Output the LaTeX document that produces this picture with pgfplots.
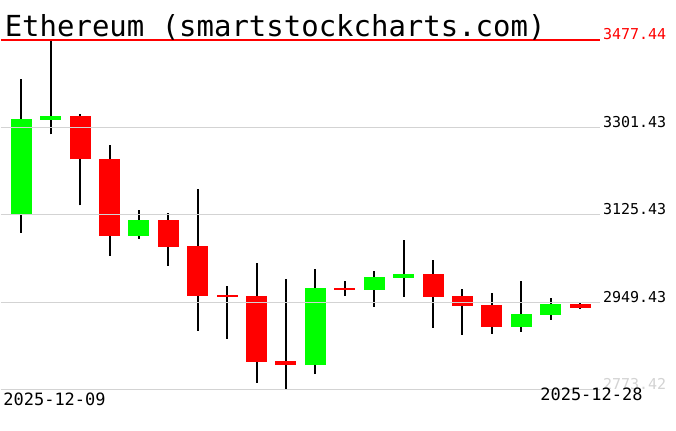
\documentclass[border=0pt]{standalone}
\usepackage{pgfplots}
\usepackage{pgfplotstable}
\pgfplotsset{compat=1.18}
\usepackage{fontspec}
\setmainfont{DejaVu Sans Mono}
\definecolor{gridgray}{RGB}{211,211,211}
\definecolor{upgreen}{RGB}{0,255,0}
\definecolor{downred}{RGB}{255,0,0}

% x open high low close
\pgfplotstableread{
x  o       h        l       c
1  3125.4  3399.6   3089.7  3319.0
2  3316.9  3477.44  3287.3  3325.0
5  3083.7  3135.5   3077.0  3115.3
11 2823.0  3016.6   2804.9  2978.3
13 2974.2  3013.1   2939.9  3000.4
14 2999.0  3075.0   2960.7  3007.1
18 2900.2  2992.4   2890.1  2925.8
19 2924.4  2958.1   2914.3  2946.0
}\updata
\pgfplotstableread{
x  o       h        l        c
3  3325.0  3329.0   3144.2   3236.9
4  3238.3  3266.5   3043.4   3083.7
6  3115.3  3129.4   3023.2   3061.5
7  3062.9  3177.8   2892.2   2962.7
8  2964.1  2982.3   2876.0   2960.7
9  2962.1  3028.0   2787.3   2829.7
10 2831.1  2996.4   2773.42  2823.0
12 2978.3  2992.4   2962.1   2974.2
15 3007.1  3034.7   2898.2   2960.7
16 2962.7  2976.2   2883.5   2941.9
17 2944.0  2968.8   2885.5   2900.2
20 2946.0  2949.4   2935.9   2938.5
}\downdata

\begin{document}
\begin{tikzpicture}[x=1pt,y=1pt]
\path[fill=white] (0,0) rectangle (676,431);
\begin{axis}[
  at={(0pt,41pt)}, anchor=south west,
  scale only axis, width=600pt, height=350pt,
  xmin=0.297, xmax=20.68,
  ymin=2773.42, ymax=3477.44,
  clip=false,
  hide x axis,
  axis y line*=right,
  y axis line style={draw=none},
  xtick=\empty,
  ytick={2773.42,2949.43,3125.43,3301.43,3477.44},
  yticklabels={{\color{gridgray}2773.42},2949.43,3125.43,3301.43,{\color{downred}3477.44}},
  major tick length=0pt,
  yticklabel style={anchor=base west, inner sep=0pt, xshift=2.8pt, font=\fontsize{15}{15}\selectfont},
]
% wicks
\addplot[draw=none, mark=none, error bars/.cd, y dir=plus, y explicit,
  error mark=none, error bar style={draw=black, line width=2pt}]
  table[x=x, y=l, y error plus expr={\thisrow{h}-\thisrow{l}}] {\updata};
\addplot[draw=none, mark=none, error bars/.cd, y dir=plus, y explicit,
  error mark=none, error bar style={draw=black, line width=2pt}]
  table[x=x, y=l, y error plus expr={\thisrow{h}-\thisrow{l}}] {\downdata};
% bodies
\addplot[draw=none, mark=none, error bars/.cd, y dir=plus, y explicit,
  error mark=none, error bar style={draw=upgreen, line width=21pt}]
  table[x=x, y=o, y error plus expr={\thisrow{c}-\thisrow{o}}] {\updata};
\addplot[draw=none, mark=none, error bars/.cd, y dir=plus, y explicit,
  error mark=none, error bar style={draw=downred, line width=21pt}]
  table[x=x, y=c, y error plus expr={\thisrow{o}-\thisrow{c}}] {\downdata};
% grid lines drawn over the bodies, as in the reference
\addplot[gridgray, line width=1pt, mark=none] coordinates {(0.297,2773.42) (20.68,2773.42)};
\addplot[gridgray, line width=1pt, mark=none] coordinates {(0.297,2949.43) (20.68,2949.43)};
\addplot[gridgray, line width=1pt, mark=none] coordinates {(0.297,3125.43) (20.68,3125.43)};
\addplot[gridgray, line width=1pt, mark=none] coordinates {(0.297,3301.43) (20.68,3301.43)};
\addplot[downred, line width=1.2pt, mark=none] coordinates {(0.297,3477.44) (20.68,3477.44)};
\end{axis}
\node[anchor=base west, inner sep=0pt, font=\fontsize{29}{29}\selectfont] at (4,394.3) {Ethereum (smartstockcharts.com)};
\node[anchor=base west, inner sep=0pt, font=\fontsize{17}{17}\selectfont] at (2.6,25) {2025-12-09};
\node[anchor=base west, inner sep=0pt, font=\fontsize{17}{17}\selectfont] at (540,30) {2025-12-28};
\end{tikzpicture}
\end{document}
